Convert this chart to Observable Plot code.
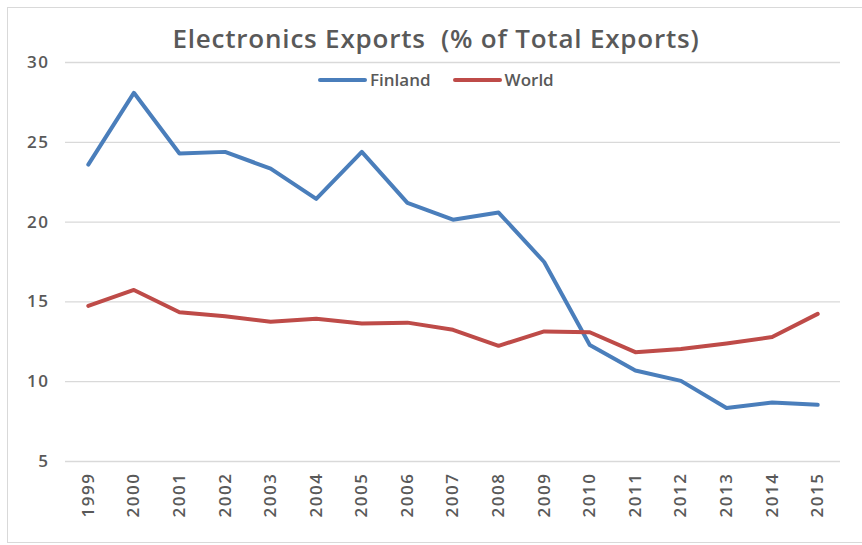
<!DOCTYPE html>
<html>
<head>
<meta charset="utf-8">
<script src="https://cdn.jsdelivr.net/npm/d3@7"></script>
<script src="https://cdn.jsdelivr.net/npm/@observablehq/plot@0.6"></script>
<style>
  html, body { margin: 0; padding: 0; background: #fff; }
  #wrap { position: relative; width: 862px; height: 545px; overflow: hidden; font-family: "Open Sans", Lato, sans-serif; }
  #frame { position: absolute; left: 7px; top: 7px; width: 870px; height: 536px; border: 1px solid #d9d9d9; box-sizing: border-box; }
  #title { position: absolute; left: 0; width: 872px; top: 20px; text-align: center; font-size: 26px; letter-spacing: 0.8px; font-weight: 600; color: #595959; white-space: pre; }
  #legend { position: absolute; top: 68px; left: 318px; display: flex; align-items: center; font-size: 17px; font-weight: 600; color: #595959; }
  .item { display: flex; align-items: center; margin-right: 22px; }
  .swatch { width: 49px; height: 4px; border-radius: 2px; margin-right: 3px; }
  #chart { position: absolute; left: 0; top: 0; }
  #chart g[aria-label="y-axis tick label"] text,
  #chart g[aria-label="x-axis tick label"] text { letter-spacing: 1.5px; }
</style>
</head>
<body>
<div id="wrap">
  <div id="frame"></div>
  <div id="chart"></div>
  <div id="title"></div>
  <div id="legend"></div>
</div>
<script>
// Electronics exports as a share of total exports, 1999–2015
const years = ["1999","2000","2001","2002","2003","2004","2005","2006","2007","2008","2009","2010","2011","2012","2013","2014","2015"];
const finland = [23.6, 28.1, 24.3, 24.4, 23.35, 21.45, 24.4, 21.2, 20.15, 20.6, 17.5, 12.3, 10.7, 10.05, 8.35, 8.7, 8.55];
const world = [14.75, 15.75, 14.35, 14.1, 13.75, 13.95, 13.65, 13.7, 13.25, 12.25, 13.15, 13.1, 11.85, 12.05, 12.4, 12.8, 14.25];
const seriesNames = ["Finland", "World"];
const seriesColors = ["#4a7ebb", "#be4b48"];
const yTicks = [5, 10, 15, 20, 25, 30];
const titleText = "Electronics Exports  (% of Total Exports)";

const rows = [
  ...years.map((year, i) => ({year, value: finland[i], series: "Finland"})),
  ...years.map((year, i) => ({year, value: world[i], series: "World"}))
];

const chart = Plot.plot({
  width: 862,
  height: 545,
  marginLeft: 65,
  marginRight: 22,
  marginTop: 62,
  marginBottom: 84,
  style: { fontFamily: "'Open Sans', Lato, sans-serif", background: "transparent" },
  x: { type: "point", domain: years, padding: 0.5, round: false, label: null },
  y: { domain: [5, 30], label: null },
  color: { domain: seriesNames, range: seriesColors },
  marks: [
    Plot.ruleY(yTicks, { stroke: "#d9d9d9", strokeWidth: 1.3 }),
    Plot.axisY({ ticks: yTicks, tickSize: 0, tickPadding: 16, fontSize: 17, fontWeight: 600, fill: "#595959", label: null }),
    Plot.axisX({ tickSize: 0, tickRotate: -90, tickPadding: 11, fontSize: 17, fontWeight: 600, fill: "#595959", label: null }),
    Plot.line(rows, { x: "year", y: "value", z: "series", stroke: "series", strokeWidth: 4, strokeLinejoin: "round", strokeLinecap: "round" })
  ]
});
document.getElementById("chart").appendChild(chart);

document.getElementById("title").textContent = titleText;
const legend = document.getElementById("legend");
seriesNames.forEach((name, i) => {
  const item = document.createElement("div");
  item.className = "item";
  const sw = document.createElement("div");
  sw.className = "swatch";
  sw.style.background = seriesColors[i];
  const label = document.createElement("span");
  label.textContent = name;
  item.appendChild(sw);
  item.appendChild(label);
  legend.appendChild(item);
});
</script>
</body>
</html>
